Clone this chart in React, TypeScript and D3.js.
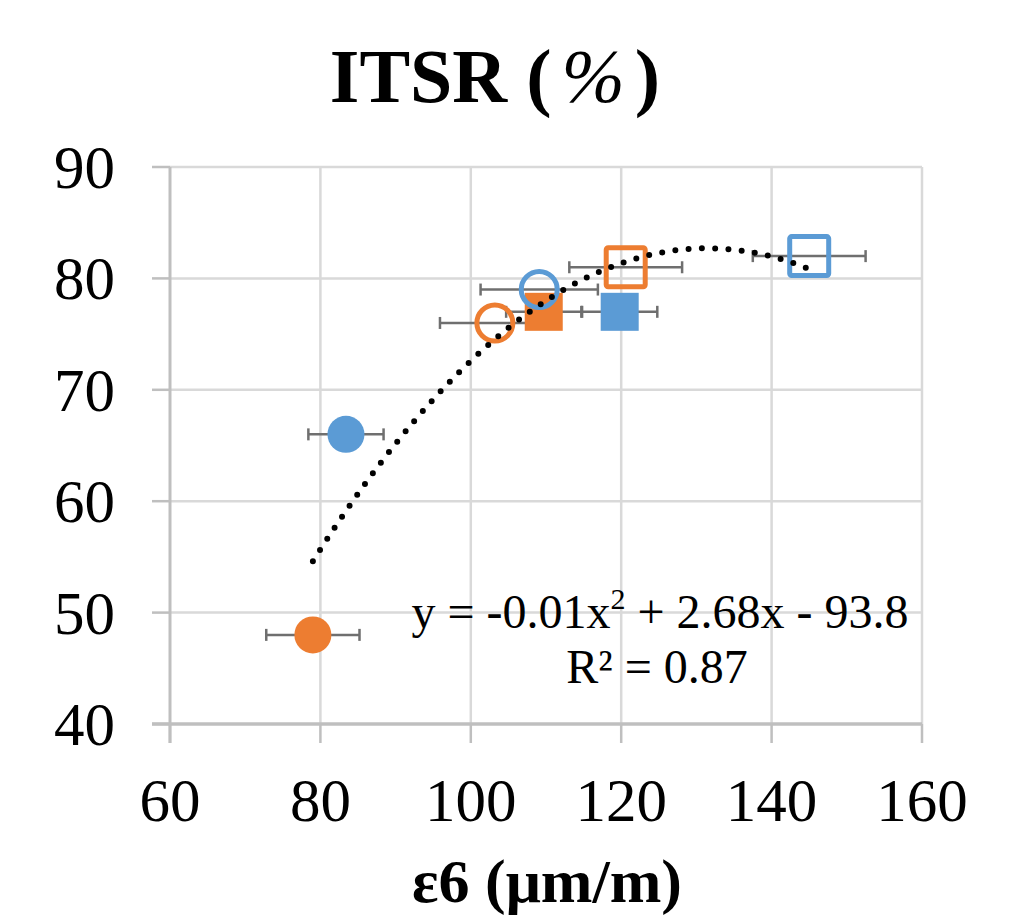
import React from 'react';
import * as d3 from 'd3';

// measured points (strain vs ITSR), marker style per mix
const strain = [83.4, 79, 103.2, 109.7, 109.1, 119.8, 120.6, 145];
const itsr = [66, 48, 76, 77, 79, 77, 81, 82];
const strainErr = [5, 6.2, 7.3, 5, 7.8, 5, 7.5, 7.5];
const shapes = ['circle', 'circle', 'circle', 'square', 'circle', 'square', 'square', 'square'];
const filled = [true, true, false, true, false, true, false, false];
const colorKeys = ['blue', 'orange', 'orange', 'orange', 'blue', 'blue', 'orange', 'blue'];

const xTicks = [60, 80, 100, 120, 140, 160];
const yTicks = [40, 50, 60, 70, 80, 90];

// poly trendline shown on chart
const trendA = -0.0102;
const trendB = 2.682;
const trendC = -93.6;

const palette: Record<string, string> = { blue: '#5B9BD5', orange: '#ED7D31' };
const font = '"Liberation Serif", "Times New Roman", serif';

export default function App() {
  const W = 1030;
  const H = 919;
  const x = d3.scaleLinear().domain([60, 160]).range([170, 922]);
  const y = d3.scaleLinear().domain([40, 90]).range([724, 167]);

  const ext = d3.extent(strain) as [number, number];
  const trendPts = d3.range(ext[0], ext[1] + 0.01, 0.5).map((v) => [v, trendA * v * v + trendB * v + trendC]);
  const line = d3.line<number[]>().x((d) => x(d[0])).y((d) => y(d[1])).curve(d3.curveMonotoneX);

  const r = 18.5;
  const half = 19;

  return (
    <svg width={W} height={H} style={{ position: 'absolute', left: 0, top: 0, background: '#fff' }}>
      {/* grid */}
      {yTicks.slice(1).map((t) => (
        <line key={'gy' + t} x1={x(60)} x2={x(160)} y1={y(t)} y2={y(t)} stroke="#d9d9d9" strokeWidth={2.5} />
      ))}
      {xTicks.slice(1).map((t) => (
        <line key={'gx' + t} x1={x(t)} x2={x(t)} y1={y(90)} y2={y(40)} stroke="#d9d9d9" strokeWidth={2.5} />
      ))}
      {/* axes */}
      <line x1={x(60)} x2={x(60)} y1={y(90)} y2={y(40) + 19} stroke="#bfbfbf" strokeWidth={3} />
      <line x1={x(60) - 18} x2={x(160)} y1={y(40)} y2={y(40)} stroke="#bfbfbf" strokeWidth={3.5} />
      {yTicks.map((t) => (
        <line key={'ty' + t} x1={x(60) - 18} x2={x(60)} y1={y(t)} y2={y(t)} stroke="#bfbfbf" strokeWidth={2.5} />
      ))}
      {xTicks.map((t) => (
        <line key={'tx' + t} x1={x(t)} x2={x(t)} y1={y(40)} y2={y(40) + 19} stroke="#bfbfbf" strokeWidth={2.5} />
      ))}
      {yTicks.map((t) => (
        <text key={'ly' + t} x={115} y={y(t) + 21} textAnchor="end" fontFamily={font} fontSize={61} fill="#000">
          {t}
        </text>
      ))}
      {xTicks.map((t) => (
        <text key={'lx' + t} x={x(t)} y={821} textAnchor="middle" fontFamily={font} fontSize={61} fill="#000">
          {t}
        </text>
      ))}

      {/* error bars */}
      {strain.map((s, i) => (
        <g key={'e' + i} stroke="#6f6f6f" strokeWidth={2.5}>
          <line x1={x(s - strainErr[i])} x2={x(s + strainErr[i])} y1={y(itsr[i])} y2={y(itsr[i])} />
          <line x1={x(s - strainErr[i])} x2={x(s - strainErr[i])} y1={y(itsr[i]) - 6} y2={y(itsr[i]) + 6} />
          <line x1={x(s + strainErr[i])} x2={x(s + strainErr[i])} y1={y(itsr[i]) - 6} y2={y(itsr[i]) + 6} />
        </g>
      ))}

      {/* markers */}
      {strain.map((s, i) => {
        const c = palette[colorKeys[i]];
        const fillC = filled[i] ? c : 'none';
        const st = filled[i] ? 'none' : c;
        const rr = filled[i] ? r : r - 0.5;
        if (shapes[i] === 'circle') {
          return <circle key={'m' + i} cx={x(s)} cy={y(itsr[i])} r={rr} fill={fillC} stroke={st} strokeWidth={5} />;
        }
        const hh = filled[i] ? half : half + 0.5;
        return (
          <rect key={'m' + i} x={x(s) - hh} y={y(itsr[i]) - hh} width={hh * 2} height={hh * 2}
            fill={fillC} stroke={st} strokeWidth={5} rx={filled[i] ? 0 : 2} />
        );
      })}

      {/* trendline */}
      <path d={line(trendPts) || ''} fill="none" stroke="#000" strokeWidth={6} strokeLinecap="round" strokeDasharray="0 13.3" />

      {/* equation */}
      <text x={660} y={628} textAnchor="middle" fontFamily={font} fontSize={48} fill="#000">
        y = -0.01x<tspan fontSize={30} dy={-19}>2</tspan><tspan dy={19}> + 2.68x - 93.8</tspan>
      </text>
      <text x={657} y={683} textAnchor="middle" fontFamily={font} fontSize={48} fill="#000">
        R² = 0.87
      </text>

      {/* titles */}
      <text x={495} y={102} textAnchor="middle" fontFamily={font} fontSize={76} fontWeight="bold" fill="#000">
        ITSR (<tspan fontWeight="normal" fontStyle="italic" dx={10}>%</tspan><tspan dx={10}>)</tspan>
      </text>
      <text x={547} y={902} textAnchor="middle" fontFamily={font} fontSize={62} fontWeight="bold" fill="#000">
        ε6 (μm/m)
      </text>
    </svg>
  );
}
